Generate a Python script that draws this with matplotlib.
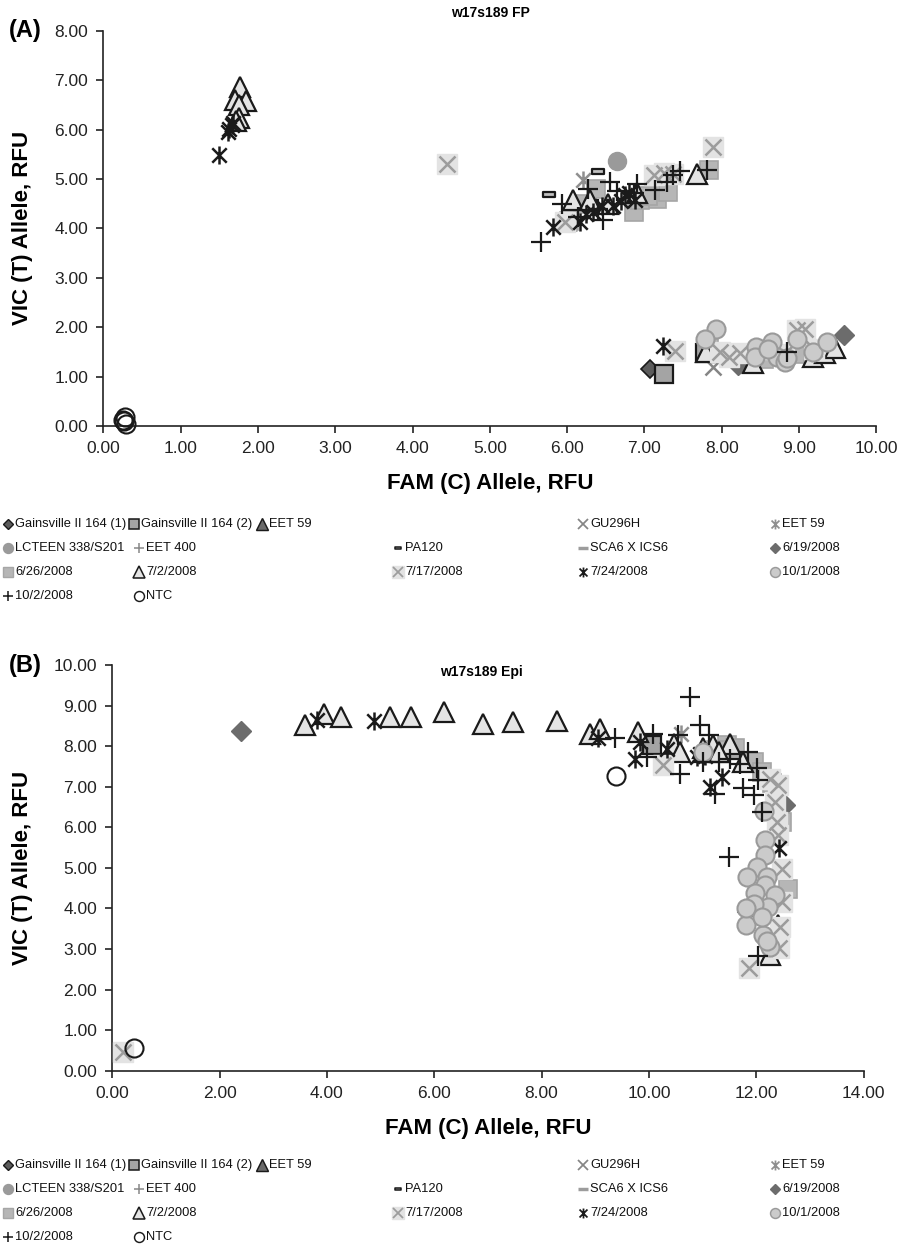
import numpy as np
import matplotlib
matplotlib.use("Agg")
import matplotlib.pyplot as plt
from matplotlib.lines import Line2D
from matplotlib.path import Path

plt.rcParams['font.family'] = ['Liberation Sans', 'DejaVu Sans']

W, H = 904, 1253

# ---------------------------------------------------------------- data
# Each series: list of (FAM, VIC) readings in RFU
series_names = [
    "Gainsville II 164 (1)", "Gainsville II 164 (2)", "EET 59", "GU296H",
    "EET 59 ", "LCTEEN 338/S201", "EET 400", "PA120", "SCA6 X ICS6",
    "6/19/2008", "6/26/2008", "7/2/2008", "7/17/2008", "7/24/2008",
    "10/1/2008", "10/2/2008", "NTC",
]

fp_g1 = [(7.07, 1.15)]
fp_g2 = [(7.25, 1.06), (7.78, 1.47)]
fp_eet59 = []
fp_gu296h = [(7.89, 1.20), (8.15, 1.42)]
fp_eet59b = [(6.21, 4.98)]
fp_lcteen = [(6.65, 5.36)]
fp_eet400 = []
fp_pa120 = [(6.40, 5.17), (5.77, 4.70)]
fp_sca6 = [(6.00, 3.98)]
fp_d0619 = [(8.21, 1.23), (9.58, 1.85)]
fp_d0626 = [(7.84, 5.19), (6.86, 4.33), (6.38, 4.80), (7.16, 4.60), (7.31, 4.73),
            (6.94, 4.57), (7.05, 4.65), (6.20, 4.50), (6.02, 4.15), (7.83, 1.57),
            (8.55, 1.35), (8.95, 1.45)]
fp_d0702 = [(1.77, 6.87), (1.70, 6.60), (1.85, 6.58), (1.76, 6.50), (1.75, 6.24),
            (1.72, 6.18), (6.08, 4.57), (6.30, 4.57), (6.53, 4.50), (7.68, 5.10),
            (6.90, 4.72), (8.41, 1.27), (9.18, 1.40), (9.33, 1.47), (9.47, 1.57),
            (7.80, 1.50)]
fp_d0717 = [(7.89, 5.64), (4.45, 5.30), (5.97, 4.13), (7.37, 5.10), (7.12, 5.07),
            (7.25, 5.13), (7.40, 1.52), (8.24, 1.47), (7.98, 1.50), (8.10, 1.40),
            (8.97, 1.94), (9.08, 1.97), (8.55, 1.55), (8.80, 1.45), (9.20, 1.55)]
fp_d0724 = [(1.50, 5.48), (1.63, 6.02), (1.66, 6.10), (1.68, 6.14), (1.61, 5.96),
            (5.82, 4.03), (6.17, 4.13), (6.34, 4.33), (6.45, 4.46), (6.75, 4.67),
            (6.88, 4.57), (6.80, 4.72), (6.70, 4.55), (6.25, 4.30), (6.60, 4.45),
            (7.24, 1.62)]
fp_d1001 = [(7.93, 1.97), (7.79, 1.77), (8.45, 1.60), (8.65, 1.70), (8.43, 1.40),
            (8.71, 1.40), (8.82, 1.30), (8.97, 1.77), (9.18, 1.50), (9.36, 1.70),
            (8.60, 1.55), (8.85, 1.38)]
fp_d1002 = [(5.66, 3.72), (5.93, 4.50), (6.27, 4.80), (6.55, 4.94), (6.47, 4.16),
            (6.14, 4.23), (6.90, 4.90), (6.86, 4.72), (7.14, 4.77), (7.29, 4.94),
            (7.37, 5.07), (7.46, 5.17), (7.81, 5.19), (6.65, 4.75), (6.40, 4.40),
            (8.84, 1.50)]
fp_ntc = [(0.28, 0.18), (0.27, 0.11), (0.29, 0.05), (0.25, 0.13)]

epi_g1 = [(11.82, 3.92)]
epi_g2 = [(10.06, 8.03)]
epi_eet59 = []
epi_gu296h = [(11.20, 7.90)]
epi_eet59b = [(10.60, 8.30)]
epi_lcteen = []
epi_eet400 = []
epi_pa120 = []
epi_sca6 = []
epi_d0619 = [(2.39, 8.38), (12.54, 6.54)]
epi_d0626 = [(11.45, 8.02), (11.60, 7.95), (11.95, 7.61), (12.10, 7.36), (12.48, 6.13),
             (12.60, 4.49), (12.30, 7.10), (11.25, 7.90)]
epi_d0702 = [(3.59, 8.52), (3.94, 8.79), (4.26, 8.71), (5.17, 8.71), (5.56, 8.73),
             (6.19, 8.85), (6.90, 8.55), (7.47, 8.60), (8.29, 8.62), (8.90, 8.31),
             (9.09, 8.43), (9.80, 8.35), (10.46, 8.06), (10.58, 7.86), (11.20, 8.02),
             (11.51, 8.06), (11.76, 7.61), (11.00, 7.95), (11.30, 7.85), (12.25, 2.85),
             (12.40, 3.60)]
epi_d0717 = [(10.27, 7.53), (12.40, 7.04), (12.35, 6.63), (12.38, 6.13), (12.48, 4.98),
             (12.48, 4.16), (12.45, 3.55), (12.42, 3.02), (11.87, 2.52), (12.26, 7.20),
             (12.40, 5.80), (0.20, 0.45)]
epi_d0724 = [(3.81, 8.64), (4.88, 8.63), (9.06, 8.19), (9.84, 8.10), (9.74, 7.69),
             (10.33, 7.94), (10.89, 7.73), (11.14, 7.00), (11.36, 7.24), (12.43, 5.48),
             (10.95, 7.80), (11.05, 7.75)]
epi_d1001 = [(12.17, 5.68), (12.17, 5.31), (12.01, 5.02), (11.82, 4.78), (12.20, 4.78),
             (12.17, 4.57), (11.98, 4.37), (12.35, 4.33), (12.22, 4.04), (11.96, 4.12),
             (11.81, 3.59), (12.13, 3.34), (12.26, 3.05), (12.20, 3.20), (12.14, 6.41),
             (11.80, 4.00), (12.10, 3.80), (11.00, 7.85)]
epi_d1002 = [(9.37, 8.21), (10.08, 8.31), (10.55, 8.27), (10.76, 9.22), (10.95, 8.51),
             (11.11, 8.27), (9.96, 7.73), (10.58, 7.31), (11.23, 6.83), (11.76, 6.96),
             (11.95, 6.79), (12.01, 7.45), (11.85, 7.86), (12.10, 6.38), (11.50, 5.27),
             (11.51, 7.69), (12.04, 7.16), (12.04, 2.83), (11.00, 7.60), (11.30, 7.60),
             (11.70, 7.55)]
epi_ntc = [(9.39, 7.26), (0.40, 0.55)]

fp_data = [fp_g1, fp_g2, fp_eet59, fp_gu296h, fp_eet59b, fp_lcteen, fp_eet400,
           fp_pa120, fp_sca6, fp_d0619, fp_d0626, fp_d0702, fp_d0717, fp_d0724,
           fp_d1001, fp_d1002, fp_ntc]
epi_data = [epi_g1, epi_g2, epi_eet59, epi_gu296h, epi_eet59b, epi_lcteen, epi_eet400,
            epi_pa120, epi_sca6, epi_d0619, epi_d0626, epi_d0702, epi_d0717, epi_d0724,
            epi_d1001, epi_d1002, epi_ntc]

# ---------------------------------------------------------------- marker shapes
star_path = Path([(0, -1), (0, 1), (-0.8, -0.8), (0.8, 0.8), (-0.8, 0.8), (0.8, -0.8)],
                 [Path.MOVETO, Path.LINETO, Path.MOVETO, Path.LINETO, Path.MOVETO, Path.LINETO])
bar_path = Path([(-1, -0.45), (1, -0.45), (1, 0.45), (-1, 0.45), (-1, -0.45)],
                [Path.MOVETO, Path.LINETO, Path.LINETO, Path.LINETO, Path.CLOSEPOLY])

K = '#1a1a1a'
styles = [
    dict(marker='D', ms=9, mfc='#5c5c5c', mec=K, mew=1.2),
    dict(marker='s', ms=13, mfc='#a4a4a4', mec=K, mew=1.6),
    dict(marker='^', ms=15, mfc='#6a6a6a', mec=K, mew=1.5),
    dict(marker='x', ms=12, mfc='none', mec='#858585', mew=1.8),
    dict(marker=star_path, ms=13, mfc='none', mec='#8f8f8f', mew=1.8),
    dict(marker='o', ms=13, mfc='#9a9a9a', mec='#9a9a9a', mew=1.0),
    dict(marker='+', ms=14, mfc='none', mec='#8a8a8a', mew=1.6),
    dict(marker=bar_path, ms=8, mfc='#c0c0c0', mec=K, mew=1.6),
    dict(marker='_', ms=14, mfc='none', mec='#9c9c9c', mew=3.5),
    dict(marker='D', ms=10, mfc='#6c6c6c', mec='#6c6c6c', mew=1.0),
    dict(marker='s', ms=13, mfc='#b6b6b6', mec='#a6a6a6', mew=1.2),
    dict(marker='^', ms=15, mfc='#e4e4e4', mec=K, mew=1.6),
    dict(marker='x', ms=12, mfc='none', mec='#9c9c9c', mew=1.8),
    dict(marker=star_path, ms=13, mfc='none', mec=K, mew=1.8),
    dict(marker='o', ms=13, mfc='#cbcbcb', mec='#9a9a9a', mew=1.5),
    dict(marker='+', ms=14, mfc='none', mec=K, mew=1.6),
    dict(marker='o', ms=13, mfc='none', mec=K, mew=1.5),
]
BOXED = 12  # 7/17/2008 markers sit on a pale square


def draw_series(ax, data):
    for i, pts in enumerate(data):
        if not pts:
            continue
        arr = np.array(pts)
        if i == BOXED:
            ax.plot(arr[:, 0], arr[:, 1], ls='none', marker='s', ms=14,
                    mfc='#e3e3e3', mec='#e3e3e3', zorder=3 + i, clip_on=False)
        ax.plot(arr[:, 0], arr[:, 1], ls='none', zorder=3 + i, clip_on=False, **styles[i])


def style_axes(ax, xmax, xstep, ymax):
    ax.set_xlim(0, xmax)
    ax.set_ylim(0, ymax)
    ax.set_xticks(np.arange(0, xmax + 0.01, xstep))
    ax.set_yticks(np.arange(0, ymax + 0.01, 1))
    ax.xaxis.set_major_formatter(matplotlib.ticker.FormatStrFormatter('%.2f'))
    ax.yaxis.set_major_formatter(matplotlib.ticker.FormatStrFormatter('%.2f'))
    for s in ('top', 'right'):
        ax.spines[s].set_visible(False)
    for s in ('left', 'bottom'):
        ax.spines[s].set_linewidth(1.2)
        ax.spines[s].set_color('#222222')
    ax.tick_params(direction='out', length=5, width=1.2, color='#222222',
                   labelsize=12.5, pad=6, labelcolor='#222222')


def fx(px):
    return px / W


def fy(py):
    return 1 - py / H


fig = plt.figure(figsize=(W / 100, H / 100), dpi=100)

# ---------------------------------------------------------------- panel A
axA = fig.add_axes([fx(103.3), fy(426), (876.3 - 103.3) / W, (426 - 30.7) / H])
style_axes(axA, 10, 1, 8)
draw_series(axA, fp_data)
axA.set_xlabel("FAM (C) Allele, RFU", fontsize=16, fontweight='bold', labelpad=12)
axA.set_ylabel("VIC (T) Allele, RFU", fontsize=16, fontweight='bold')
axA.yaxis.set_label_coords((33 - 103.3) / (876.3 - 103.3), 0.5)
fig.text(fx(490), fy(13), "w17s189 FP", fontsize=10, fontweight='bold',
         ha='center', va='center')
fig.text(fx(9), fy(30), "(A)", fontsize=17, fontweight='bold', ha='left', va='center')

# ---------------------------------------------------------------- panel B
axB = fig.add_axes([fx(112.3), fy(1070.7), (863.6 - 112.3) / W, (1070.7 - 665) / H])
style_axes(axB, 14, 2, 10)
draw_series(axB, epi_data)
axB.set_xlabel("FAM (C) Allele, RFU", fontsize=16, fontweight='bold', labelpad=12)
axB.set_ylabel("VIC (T) Allele, RFU", fontsize=16, fontweight='bold')
axB.yaxis.set_label_coords((33 - 112.3) / (863.6 - 112.3), 0.5)
fig.text(fx(481), fy(672), "w17s189 Epi", fontsize=10, fontweight='bold',
         ha='center', va='center')
fig.text(fx(9), fy(665), "(B)", fontsize=17, fontweight='bold', ha='left', va='center')

# ---------------------------------------------------------------- legends
row1_x = [8, 134, 262, 583, 775]
row_x = [8, 139, 398, 583, 775]


def draw_legend(top):
    rows = [series_names[0:5], series_names[5:10], series_names[10:15], series_names[15:17]]
    k = 0
    for r, names in enumerate(rows):
        xs = row1_x if r == 0 else row_x
        py = top + 24 * r
        for c, name in enumerate(names):
            st = dict(styles[k])
            st['ms'] = st['ms'] * 0.55
            st['mew'] = max(1.0, st['mew'] * 0.7)
            if k == BOXED:
                fig.add_artist(Line2D([fx(xs[c])], [fy(py)], transform=fig.transFigure,
                                      ls='none', marker='s', ms=8, mfc='#e3e3e3',
                                      mec='#e3e3e3'))
            fig.add_artist(Line2D([fx(xs[c])], [fy(py)], transform=fig.transFigure,
                                  ls='none', **st))
            fig.text(fx(xs[c] + 7), fy(py), name.strip(), fontsize=9.3,
                     ha='left', va='center', color='#111111')
            k += 1


draw_legend(524)
draw_legend(1165)

fig.savefig("out.png", dpi=100)
